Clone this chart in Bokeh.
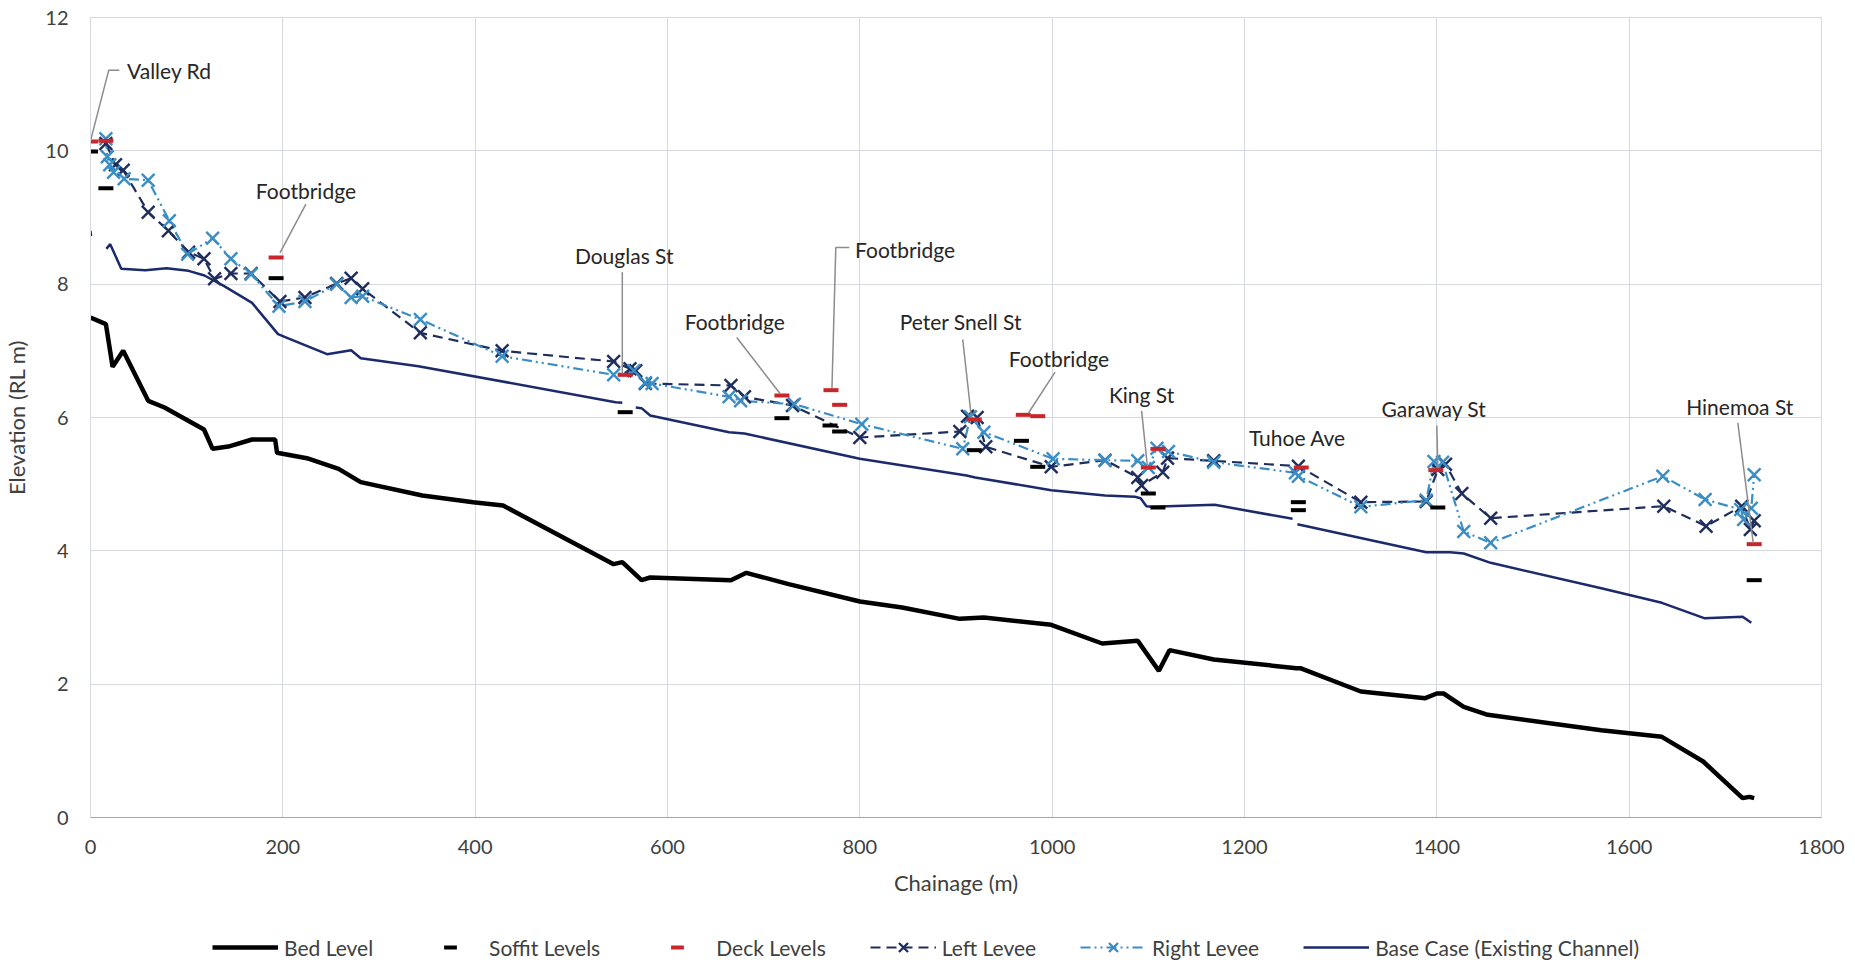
from bokeh.plotting import figure
from bokeh.layouts import column
from bokeh.models import ColumnDataSource, FixedTicker, Legend, LegendItem
from bokeh.core.properties import value
from bokeh.embed import file_html
from bokeh.resources import INLINE

nan = float("nan")

# ---- survey data (chainage in m, levels in m RL) ----
bed_chainage = [0, 16, 23, 34, 60, 77, 118, 127, 145, 168, 192, 194, 225, 258, 281, 345,
                398, 429, 544, 553, 573, 582, 666, 682, 726, 800, 844, 904, 929, 999,
                1052, 1089, 1111, 1122, 1168, 1254, 1258, 1321, 1388, 1400, 1407, 1428,
                1453, 1571, 1634, 1677, 1718, 1725, 1730]
bed_level = [7.50, 7.40, 6.76, 7.00, 6.25, 6.15, 5.82, 5.53, 5.57, 5.67, 5.67, 5.47, 5.39,
             5.23, 5.03, 4.83, 4.73, 4.68, 3.80, 3.83, 3.56, 3.60, 3.56, 3.67, 3.50, 3.24,
             3.15, 2.98, 3.00, 2.89, 2.61, 2.65, 2.20, 2.51, 2.37, 2.24, 2.24, 1.89, 1.79,
             1.86, 1.86, 1.66, 1.54, 1.31, 1.21, 0.84, 0.29, 0.31, 0.29]

base_chainage = [0, 0.5, nan,
                 16.5, 20.5, 32, 57, 79, 102, 118.5, 139, 168, 195, 205, 246, 271, 281, 341,
                 546, 553, nan,
                 567, 573, 582, 664, 680, 800, 911, 920, 999, 1055, 1086, 1092, 1098, 1104,
                 1169, 1250, nan,
                 1255, 1389, 1414, 1428, 1456, 1571, 1634, 1678, 1718, 1727]
base_level = [8.80, 8.72, nan,
              8.53, 8.60, 8.23, 8.21, 8.24, 8.20, 8.13, 7.97, 7.72, 7.25, 7.19, 6.95, 7.01,
              6.89, 6.77, 6.23, 6.22, nan,
              6.15, 6.14, 6.03, 5.78, 5.76, 5.38, 5.13, 5.10, 4.91, 4.83, 4.81, 4.79, 4.67,
              4.66, 4.69, 4.48, nan,
              4.40, 3.98, 3.98, 3.96, 3.82, 3.44, 3.22, 2.99, 3.01, 2.92]

left_chainage = [16, 26, 34, 60, 81, 102, 118, 129, 146, 167, 197, 223, 256, 271, 283, 343,
                 428, 544, 561, 567, 577, 666, 680, 730, 800, 904, 912, 922, 931, 999, 1055,
                 1089, 1093, 1115, 1120, 1168, 1256, 1321, 1389, 1401, 1409, 1426, 1456,
                 1636, 1680, 1717, 1726, 1730]
left_level = [10.11, 9.79, 9.71, 9.08, 8.80, 8.48, 8.38, 8.08, 8.16, 8.16, 7.74, 7.80, 8.01,
              8.09, 7.93, 7.27, 7.00, 6.84, 6.73, 6.70, 6.51, 6.48, 6.31, 6.18, 5.70, 5.79,
              6.02, 6.00, 5.56, 5.26, 5.36, 5.10, 4.98, 5.18, 5.39, 5.35, 5.27, 4.73, 4.74,
              5.22, 5.30, 4.86, 4.49, 4.67, 4.37, 4.67, 4.32, 4.45]

right_chainage = [16, 17.5, 20, 24, 35, 60, 82, 101, 127, 146, 167, 196, 223, 256, 271, 283,
                  343, 428, 544, 565, 577, 584, 664, 676, 732, 802, 907, 915, 929, 1001,
                  1055, 1089, 1100, 1109, 1121, 1168, 1253, 1256, 1321, 1389, 1397, 1406,
                  1428, 1456, 1635, 1679, 1716, 1719, 1727, 1730]
right_level = [10.18, 9.91, 9.79, 9.68, 9.58, 9.56, 8.95, 8.45, 8.69, 8.38, 8.15, 7.67, 7.74,
               8.00, 7.80, 7.82, 7.47, 6.92, 6.64, 6.70, 6.52, 6.51, 6.31, 6.25, 6.20, 5.90,
               5.53, 6.01, 5.78, 5.38, 5.36, 5.35, 5.25, 5.54, 5.49, 5.33, 5.17, 5.12, 4.66,
               4.76, 5.34, 5.33, 4.29, 4.12, 5.12, 4.77, 4.62, 4.47, 4.64, 5.14]

deck_chainage = [0, 16, 193, 556, 719, 770, 779, 919, 970, 985, 1100, 1110, 1259, 1399, 1730]
deck_level = [10.14, 10.15, 8.40, 6.64, 6.33, 6.41, 6.19, 5.97, 6.04, 6.02, 5.25, 5.53,
              5.25, 5.21, 4.10]

soffit_chainage = [0, 16, 193, 556, 719, 769, 779, 919, 968, 985, 1100, 1110, 1256, 1256,
                   1401, 1730]
soffit_level = [9.99, 9.44, 8.09, 6.08, 5.99, 5.88, 5.79, 5.51, 5.65, 5.26, 4.86, 4.65,
                4.73, 4.61, 4.65, 3.56]

# bridge call-outs: label, label anchor, leader line points
bridge_names = ["Footbridge", "Douglas St", "Footbridge", "Peter Snell St", "Footbridge",
                "King St", "Tuhoe Ave", "Garaway St", "Hinemoa St"]
bridge_label_x = [224, 555, 670, 905, 1007, 1093, 1255, 1397, 1715]
bridge_label_y = [9.41, 8.43, 7.44, 7.44, 6.89, 6.34, 5.70, 6.13, 6.17]
side_names = ["Valley Rd", "Footbridge"]
side_label_x = [38, 795]
side_label_y = [11.2, 8.52]
leader_xs = [[0, 19, 30], [224, 197], [553, 553], [672, 717], [789, 775, 771], [907, 916],
             [1003, 975], [1093, 1099], [1400, 1401], [1713, 1729]]
leader_ys = [[10.15, 11.21, 11.21], [9.20, 8.47], [8.18, 6.66], [7.20, 6.36],
             [8.55, 8.55, 6.44], [7.17, 6.00], [6.68, 6.06], [6.10, 5.27], [5.88, 5.25],
             [5.92, 4.12]]

x_ticks = list(range(0, 1801, 200))
y_ticks = list(range(0, 13, 2))

FONT = "Lato"
GRID = "#D6D9E0"
TEXT = "#404040"

# series styles, shared by the chart and the legend strip
BED = dict(line_color="black", line_width=4.5)
BASE = dict(line_color="#1B2A6B", line_width=2.5)
LEFT_LINE = dict(line_color="#1E2D5C", line_width=2.2, line_dash="10 6")
RIGHT_LINE = dict(line_color="#3A8DC5", line_width=2.2, line_dash="10 4 2 4 2 4")
LEFT_X = dict(marker="x", size=18, line_width=2.4, line_color="#1E2D5C")
RIGHT_X = dict(marker="x", size=18, line_width=2.4, line_color="#3A8DC5")
SOFFIT = dict(marker="dash", size=15, line_width=4, line_color="black")
DECK = dict(marker="dash", size=15, line_width=4, line_color="#C8262B")

p = figure(width=1855, height=920, x_range=(0, 1800), y_range=(0, 12),
           output_backend="svg", toolbar_location=None,
           min_border_left=86, min_border_right=34, min_border_top=17, min_border_bottom=103)
p.background_fill_color = "white"
p.border_fill_color = "white"
p.outline_line_color = GRID

for ax in (p.xaxis[0], p.yaxis[0]):
    ax.major_tick_line_color = None
    ax.minor_tick_line_color = None
    ax.major_tick_out = 0
    ax.major_label_text_font = FONT
    ax.major_label_text_font_size = "20px"
    ax.major_label_text_color = TEXT
    ax.axis_label_text_font = FONT
    ax.axis_label_text_font_size = "22px"
    ax.axis_label_text_font_style = "normal"
    ax.axis_label_text_color = TEXT
p.xaxis.ticker = FixedTicker(ticks=x_ticks)
p.yaxis.ticker = FixedTicker(ticks=y_ticks)
p.xaxis.axis_label = "Chainage (m)"
p.yaxis.axis_label = "Elevation (RL m)"
p.xaxis.major_label_standoff = 22
p.xaxis.axis_label_standoff = 12
p.yaxis.major_label_standoff = 22
p.yaxis.axis_label_standoff = 12
p.xaxis.axis_line_color = "#A6A6A6"
p.yaxis.axis_line_color = GRID
p.grid.grid_line_color = GRID
p.grid.grid_line_width = 1

p.line(bed_chainage, bed_level, **BED)
p.line(base_chainage, base_level, **BASE)

left_src = ColumnDataSource(dict(x=left_chainage, y=left_level))
right_src = ColumnDataSource(dict(x=right_chainage, y=right_level))
p.line("x", "y", source=left_src, **LEFT_LINE)
p.line("x", "y", source=right_src, **RIGHT_LINE)
p.scatter("x", "y", source=left_src, **LEFT_X)
p.scatter("x", "y", source=right_src, **RIGHT_X)

p.scatter(soffit_chainage, soffit_level, **SOFFIT)
p.scatter(deck_chainage, deck_level, **DECK)

p.multi_line(leader_xs, leader_ys, line_color="#8C8C8C", line_width=1.5)
p.text(bridge_label_x, bridge_label_y, text=bridge_names, text_font=value(FONT),
       text_font_size="21px", text_color="#262626", text_align="center",
       text_baseline="middle")
p.text(side_label_x, side_label_y, text=side_names, text_font=value(FONT),
       text_font_size="21px", text_color="#262626", text_align="left",
       text_baseline="middle")

# legend strip underneath the chart; its renderers hold a single blank point
# so that only their legend swatches are drawn
key = figure(width=1855, height=46, output_backend="svg", toolbar_location=None,
             x_axis_type=None, y_axis_type=None, min_border=0)
key.outline_line_color = None
key.background_fill_color = "white"
key.border_fill_color = "white"
blank = ColumnDataSource(dict(x=[nan], y=[nan]))
k_bed = key.line("x", "y", source=blank, **BED)
k_soffit = key.scatter("x", "y", source=blank, **SOFFIT)
k_deck = key.scatter("x", "y", source=blank, **DECK)
k_left = [key.line("x", "y", source=blank, **LEFT_LINE),
          key.scatter("x", "y", source=blank, **LEFT_X)]
k_right = [key.line("x", "y", source=blank, **RIGHT_LINE),
           key.scatter("x", "y", source=blank, **RIGHT_X)]
k_base = key.line("x", "y", source=blank, **BASE)

legend = Legend(items=[
    LegendItem(label="Bed Level", renderers=[k_bed]),
    LegendItem(label="Soffit Levels", renderers=[k_soffit]),
    LegendItem(label="Deck Levels", renderers=[k_deck]),
    LegendItem(label="Left Levee", renderers=k_left),
    LegendItem(label="Right Levee", renderers=k_right),
    LegendItem(label="Base Case (Existing Channel)", renderers=[k_base]),
], orientation="horizontal", location=(122, 3))
legend.label_text_font = FONT
legend.label_text_font_size = "21px"
legend.label_text_color = TEXT
legend.glyph_width = 66
legend.glyph_height = 32
legend.label_standoff = 6
legend.spacing = 44
legend.padding = 0
legend.margin = 0
legend.border_line_color = None
legend.background_fill_alpha = 0
key.add_layout(legend)

open("out.html", "w").write(file_html(column(p, key, spacing=0), INLINE))
